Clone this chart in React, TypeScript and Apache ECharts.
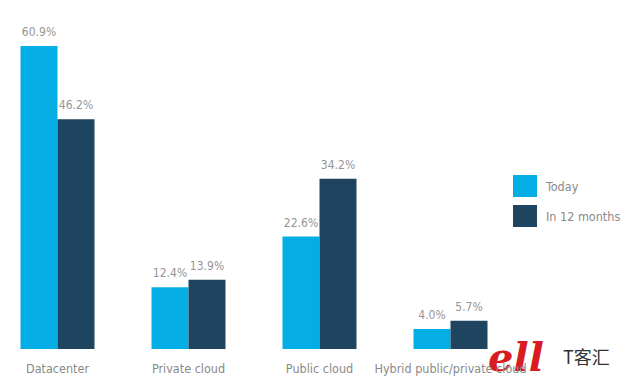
import React, { useEffect, useRef } from "react";
import * as echarts from "echarts";

const categories = ["Datacenter", "Private cloud", "Public cloud", "Hybrid public/private cloud"];
const todayValues = [60.9, 12.4, 22.6, 4.0];
const in12Values = [46.2, 13.9, 34.2, 5.7];
const seriesNames = ["Today", "In 12 months"];

export default function App() {
  const ref = useRef<HTMLDivElement>(null);
  useEffect(() => {
    const chart = echarts.init(ref.current!, null, { renderer: "svg" });
    const font = "'DejaVu Sans Condensed', 'DejaVu Sans', sans-serif";
    const label = {
      show: true,
      position: "top",
      distance: 8,
      color: "#959595",
      fontSize: 12,
      fontFamily: font,
      formatter: (p: any) => p.value.toFixed(1) + "%",
    };
    chart.setOption({
      animation: false,
      backgroundColor: "#ffffff",
      grid: { left: 0, top: 46, width: 524, height: 303, containLabel: false },
      legend: {
        orient: "vertical",
        left: 516,
        top: 170,
        itemWidth: 24,
        itemHeight: 22,
        itemGap: 8,
        icon: "rect",
        textStyle: { color: "#8a8a8a", fontSize: 12.5, fontFamily: font, padding: [0, 0, 0, 4] },
        data: seriesNames,
      },
      xAxis: {
        type: "category",
        data: categories,
        axisLine: { show: false },
        axisTick: { show: false },
        axisLabel: { color: "#8a8a8a", fontSize: 12.5, fontFamily: font, margin: 13, interval: 0 },
      },
      yAxis: { type: "value", min: 0, max: 60.9, show: false, splitLine: { show: false } },
      series: [
        {
          name: seriesNames[0],
          type: "bar",
          data: todayValues,
          barWidth: 37,
          barGap: "0%",
          itemStyle: { color: "#04ADE3" },
          label,
        },
        {
          name: seriesNames[1],
          type: "bar",
          data: in12Values,
          barWidth: 37,
          barGap: "0%",
          itemStyle: { color: "#1E4460" },
          label,
        },
      ],
      graphic: [
        {
          type: "text",
          left: 496,
          top: 336,
          style: {
            text: "ell",
            fill: "#d81c22",
            font: "italic bold 40px 'DejaVu Serif', serif",
          },
        },
        {
          type: "text",
          left: 571,
          top: 347,
          style: {
            text: "T客汇",
            fill: "#333333",
            font: "18px 'Noto Sans CJK SC', sans-serif",
          },
        },
      ],
    });
    return () => chart.dispose();
  }, []);
  return <div ref={ref} style={{ width: 633, height: 389, marginLeft: -16, marginTop: -8 }} />;
}
